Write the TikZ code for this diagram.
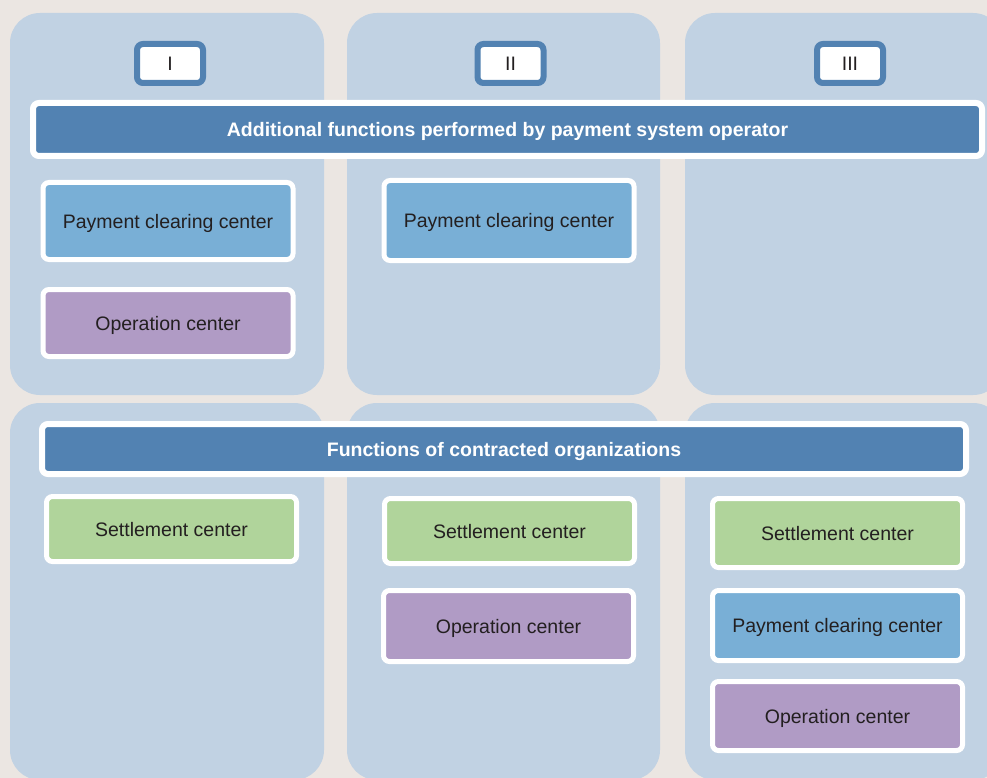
\documentclass[tikz,border=0pt]{standalone}
\usepackage{fontspec}
\setmainfont{Liberation Sans}
\definecolor{bgcol}{HTML}{EBE6E2}
\definecolor{panelcol}{HTML}{C1D2E3}
\definecolor{darkcol}{HTML}{5282B2}
\definecolor{paycol}{HTML}{79AFD6}
\definecolor{opcol}{HTML}{B09BC5}
\definecolor{setcol}{HTML}{B0D49B}
\definecolor{txtcol}{HTML}{231F20}
\begin{document}
\begin{tikzpicture}[x=1pt,y=-1pt,
	panel/.style={fill=panelcol,rounded corners=30pt},
	numbox/.style={draw=darkcol,line width=6pt,fill=white,rounded corners=6pt,minimum width=66pt,minimum height=39pt,inner sep=0pt,text height=14pt,text depth=0pt,text=txtcol,font=\fontsize{19.5}{22}\selectfont},
	headbar/.style={draw=white,line width=6pt,fill=darkcol,rounded corners=6pt,inner sep=0pt,text height=14pt,text depth=0pt,text=white,font=\fontsize{19.5}{22}\selectfont\bfseries},
	funcbox/.style={draw=white,line width=5pt,rounded corners=6pt,minimum width=250pt,inner sep=0pt,text height=14pt,text depth=0pt,text=txtcol,font=\fontsize{19.5}{22}\selectfont},
	pay/.style={funcbox,fill=paycol},
	oper/.style={funcbox,fill=opcol},
	settle/.style={funcbox,fill=setcol}]
	\useasboundingbox (0,0) rectangle (987,778);
	\fill[bgcol] (0,0) rectangle (987,778);
	\begin{scope}
	\clip (0,0) rectangle (987,778);
	% column panels
	\foreach \x/\w in {10/314,347/313,685/318} {
	\fill[panel] (\x,13) rectangle ++(\w,382);
	\fill[panel] (\x,403) rectangle ++(\w,377);
	}
	\end{scope}
	% numbers
	\node[numbox] (numI) at (170,63.5) {I};
	\node[numbox] (numII) at (510.5,63.5) {II};
	\node[numbox] (numIII) at (850,63.5) {III};
	% header bars
	\node[headbar,minimum width=949pt,minimum height=53pt] (opbar) at (507.5,129.5) {Additional functions performed by payment system operator};
	\node[headbar,minimum width=924pt,minimum height=50pt] (orgbar) at (504,449) {Functions of contracted organizations};
	% column I
	\node[pay,minimum height=77pt] (payI) at (168,221) {Payment clearing center};
	\node[oper,minimum height=67pt] (opI) at (168,323) {Operation center};
	\node[settle,minimum height=65pt] (setI) at (171.5,529) {Settlement center};
	% column II
	\node[pay,minimum height=80pt] (payII) at (509,220.5) {Payment clearing center};
	\node[settle,minimum height=65pt] (setII) at (509.5,531) {Settlement center};
	\node[oper,minimum height=71pt] (opII) at (508.5,626) {Operation center};
	% column III
	\node[settle,minimum height=69pt] (setIII) at (837.5,533) {Settlement center};
	\node[pay,minimum height=70pt] (payIII) at (837.5,625.5) {Payment clearing center};
	\node[oper,minimum height=69pt] (opIII) at (837.5,716) {Operation center};
\end{tikzpicture}
\end{document}
